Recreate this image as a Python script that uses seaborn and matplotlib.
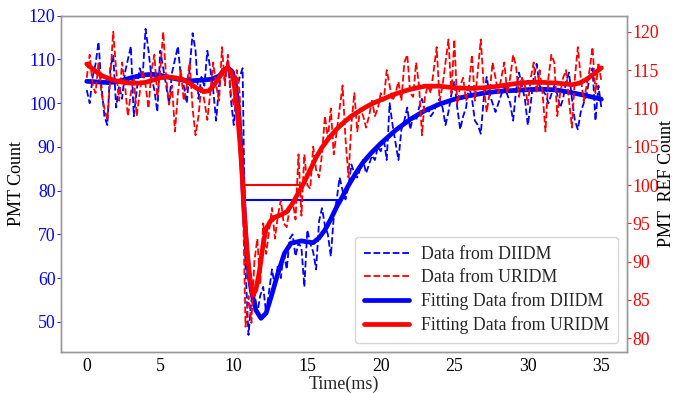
import numpy as np
import pandas as pd
import matplotlib
matplotlib.use("Agg")
import matplotlib.pyplot as plt
import seaborn as sns

# ---------------- data ----------------
time_ms = np.linspace(0, 35, 176)

diidm_data = [
    103, 100, 106, 109, 114, 104, 97, 95, 108, 111,
    99, 104, 101, 107, 110, 113, 97, 103, 108, 106,
    117, 112, 106, 103, 98, 112, 108, 104, 100, 107,
    110, 113, 106, 104, 100, 108, 116, 112, 101, 106,
    104, 112, 108, 103, 96, 104, 108, 105, 110, 101,
    95, 103, 106, 108, 62, 47, 55, 57, 52, 56,
    58, 52, 57, 62, 58, 63, 60, 66, 62, 69,
    70, 65, 68, 67, 58, 71, 68, 66, 62, 73,
    76, 72, 70, 65, 74, 78, 83, 80, 78, 81,
    86, 84, 83, 85, 87, 84, 86, 88, 87, 90,
    89, 92, 87, 100, 95, 91, 87, 94, 96, 99,
    94, 97, 96, 99, 101, 98, 99, 97, 98, 100,
    101, 99, 95, 98, 102, 105, 99, 94, 97, 99,
    104, 101, 96, 95, 93, 101, 106, 102, 100, 98,
    100, 102, 104, 102, 100, 96, 103, 107, 104, 101,
    95, 100, 106, 109, 104, 103, 102, 100, 102, 104,
    102, 99, 101, 105, 107, 101, 96, 94, 98, 100,
    102, 106, 108, 96, 104, 99,
]

uridm_data = [
    114, 117, 113, 112, 116, 112, 110, 108.5, 114, 120,
    115, 111, 116, 113, 109, 112, 114, 109, 112, 115,
    113, 110, 115, 117, 111.5, 115, 120, 114, 110.5, 113,
    107, 112, 115, 111, 113, 116, 110, 106.5, 109, 113,
    111, 108.5, 112, 116, 113, 111, 118, 113, 117, 112,
    110.5, 115, 112, 100, 81.5, 85.5, 82, 90, 93, 87,
    95, 91, 94, 97, 93, 96, 98, 95, 94.5, 97,
    98, 95.5, 104, 96, 104, 100, 99.5, 105, 102, 101,
    104, 109, 106, 110, 104, 107, 110, 113, 106, 101,
    108, 112, 107, 110, 109, 107.5, 109, 111, 109, 110,
    112, 111, 115, 113, 111, 112, 113.5, 111, 116, 117,
    112, 111.5, 116, 113, 106.5, 111.5, 113, 112, 115, 118,
    111, 113, 116, 119, 112, 119, 110.5, 113, 114, 111,
    113, 117, 111, 115, 119, 113, 109.5, 112, 116, 114,
    112, 114, 116, 112, 114, 117, 115.5, 111.5, 114, 113,
    110.5, 114, 116, 112, 115, 112, 107, 114, 117, 116,
    109, 112, 114, 115, 111, 107.5, 114, 118, 114, 111,
    113, 115, 118, 112, 116, 113.5,
]

diidm_fit_x = [0, 0.5, 1, 1.5, 2, 2.5, 3, 3.5, 4, 4.5, 5, 5.5, 6, 6.5, 7, 7.5, 8, 8.5,
               9.0, 9.3, 9.6, 9.9, 10.1, 10.3, 10.5, 10.7, 10.9, 11.05, 11.2, 11.5, 11.85,
               12.2, 12.55, 13.0, 13.45, 13.9, 14.6, 15.4, 15.8, 16.2, 16.6, 17.0, 17.4,
               17.8, 18.3, 18.8, 19.4, 20, 21, 22, 23, 24, 25, 26, 27, 28, 29, 30, 31,
               32, 33, 34, 35]
diidm_fit_y = [105.0, 104.9, 104.8, 104.7, 104.9, 105.3, 105.8, 106.2, 106.5, 106.6,
               106.4, 106.0, 105.6, 105.3, 105.1, 105.2, 105.3, 105.5,
               106.2, 107.4, 108.1, 107.2, 104.5, 99.5, 89, 76, 65, 60.5, 57, 52.7, 50.8,
               52, 55.8, 61.1, 65.7, 68, 68.5, 68.1, 69.2, 71, 73.5, 76.3, 78.7,
               81.2, 84, 86.5, 88.8, 90.8, 93.8, 96.3, 98.3, 99.8, 100.9, 101.7, 102.3,
               102.7, 102.9, 103.1, 103.2, 103.0, 102.4, 101.7, 100.9]

uridm_fit_x = [0, 0.5, 1, 1.5, 2, 2.5, 3, 3.5, 4, 4.5, 5, 5.5, 6, 6.5, 7, 7.5, 8, 8.3,
               8.6, 9.0, 9.3, 9.55, 9.8, 10.0, 10.2, 10.4, 10.55, 10.7, 10.9, 11.1, 11.3,
               11.5, 11.75, 12.0, 12.2, 12.5, 12.8, 13.2, 13.6, 14.0, 14.4, 14.8, 15.2,
               15.6, 16.0, 16.5, 17, 17.5, 18, 18.5, 19, 19.5, 20, 21, 22, 23, 24, 25,
               26, 27, 28, 29, 30, 31, 32, 33, 33.5, 34, 34.5, 35]
uridm_fit_y = [115.8, 115.0, 114.3, 113.9, 113.6, 113.4, 113.3, 113.3, 113.4, 113.7,
               114.0, 114.1, 114.0, 113.8, 113.3, 112.6, 112.2, 112.3,
               112.9, 114.0, 114.9, 115.3, 114.8, 113.5, 110.5, 106, 102, 96.5, 91.5,
               87.8, 85.6, 86.3, 88.8, 92.3, 94.3, 95.3, 95.8, 96.1, 96.5, 97.6, 99.0,
               100.4, 102.0, 103.6, 104.9, 106.2, 107.3, 108.2, 109.0, 109.6, 110.2,
               110.7, 111.1, 111.9, 112.5, 112.9, 112.9, 112.7, 112.6, 112.7, 112.9,
               113.2, 113.4, 113.4, 113.3, 113.1, 113.3, 113.8, 114.5, 115.3]

diidm_half_x = [10.73, 17.3]
diidm_half_y = [77.9, 77.9]
uridm_half_x = [10.73, 14.7]
uridm_half_y = [100.0, 100.0]

left_ticks = [50, 60, 70, 80, 90, 100, 110, 120]
right_ticks = [80, 85, 90, 95, 100, 105, 110, 115, 120]
x_ticks = [0, 5, 10, 15, 20, 25, 30, 35]

# ---------------- style ----------------
sns.set_style("white")
plt.rcParams["font.family"] = ["Liberation Serif", "DejaVu Serif"]

BLUE = "#0000ff"
RED = "#ff0000"

fig = plt.figure(figsize=(6.75, 3.93), dpi=100)
ax = fig.add_axes([0.0904, 0.1043, 0.8386, 0.8557])
ax2 = ax.twinx()

df_b = pd.DataFrame({"t": time_ms, "v": diidm_data})
df_r = pd.DataFrame({"t": time_ms, "v": uridm_data})

sns.lineplot(data=df_b, x="t", y="v", ax=ax, color=BLUE, linestyle="--",
             linewidth=1.3, label="Data from DIIDM", legend=False)
sns.lineplot(x=diidm_fit_x, y=diidm_fit_y, ax=ax, color=BLUE, linewidth=3.4,
             sort=False, estimator=None, label="Fitting Data from DIIDM", legend=False)
sns.lineplot(x=diidm_half_x, y=diidm_half_y, ax=ax, color=BLUE, linewidth=1.5,
             legend=False)

sns.lineplot(data=df_r, x="t", y="v", ax=ax2, color=RED, linestyle="--",
             linewidth=1.3, label="Data from URIDM", legend=False)
sns.lineplot(x=uridm_fit_x, y=uridm_fit_y, ax=ax2, color=RED, linewidth=3.4,
             sort=False, estimator=None, label="Fitting Data from URIDM", legend=False)
sns.lineplot(x=uridm_half_x, y=uridm_half_y, ax=ax2, color=RED, linewidth=1.5,
             legend=False)

ax.set_xlim(-1.75, 36.75)
ax.set_ylim(43.1, 120)
ax2.set_ylim(78.2, 122.1)
ax.set_xticks(x_ticks)
ax.set_yticks(left_ticks)
ax2.set_yticks(right_ticks)

ax.set_xlabel("Time(ms)", fontsize=13, labelpad=1)
ax.set_ylabel("PMT Count", fontsize=13)
ax2.set_ylabel("PMT  REF Count", fontsize=13)
ax.yaxis.set_label_coords(-0.064, 0.5)
ax2.yaxis.set_label_coords(1.054, 0.5)

ax.tick_params(axis="x", labelsize=12.8, colors="black", length=0, pad=4)
ax.tick_params(axis="y", labelsize=12.8, colors=BLUE, length=3, width=0.6, pad=1)
ax2.tick_params(axis="y", labelsize=12.8, colors=RED, length=3, width=0.6, pad=1)
ax.yaxis.label.set_color("black")
ax2.yaxis.label.set_color("black")

for a in (ax, ax2):
    for s in a.spines.values():
        s.set_color("0.6")
        s.set_linewidth(1.0)
        s.set_visible(True)

h1, l1 = ax.get_legend_handles_labels()
h2, l2 = ax2.get_legend_handles_labels()
hd = dict(zip(l1 + l2, h1 + h2))
order = ["Data from DIIDM", "Data from URIDM", "Fitting Data from DIIDM", "Fitting Data from URIDM"]
ax2.legend([hd[k] for k in order], order, loc="lower right", fontsize=12.8,
           handlelength=2.5, handletextpad=0.7, labelspacing=0.35, borderpad=0.5)

fig.savefig("out.png", dpi=100)
